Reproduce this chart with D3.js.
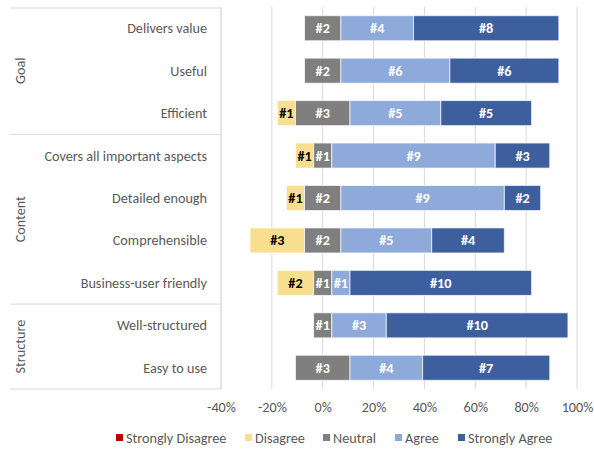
<!DOCTYPE html>
<html>
<head>
<meta charset="utf-8">
<script src="https://cdn.jsdelivr.net/npm/d3@7"></script>
<style>
  body { margin: 0; background: #fff; }
  svg text { font-family: Carlito, Lato, "Open Sans", sans-serif; }
</style>
</head>
<body>
<svg id="chart" width="594" height="449"></svg>
<script>
const items = ['Delivers value', 'Useful', 'Efficient', 'Covers all important aspects', 'Detailed enough',
  'Comprehensible', 'Business-user friendly', 'Well-structured', 'Easy to use']
const groups = [
  {name: 'Goal', first: 0, last: 2},
  {name: 'Content', first: 3, last: 6},
  {name: 'Structure', first: 7, last: 8}
]
const levels = ['Strongly Disagree', 'Disagree', 'Neutral', 'Agree', 'Strongly Agree']
const levelColors = ['#c00000', '#f8df8f', '#7f7f7f', '#8eaadb', '#3e5f9e']
const labelColors = ['#fff', '#000', '#fff', '#fff', '#fff']

// counts per level, same order as items
const stronglyDisagree = [0, 0, 0, 0, 0, 0, 0, 0, 0]
const disagree =         [0, 0, 1, 1, 1, 3, 2, 0, 0]
const neutral =          [2, 2, 3, 1, 2, 2, 1, 1, 3]
const agree =            [4, 6, 5, 9, 9, 5, 1, 3, 4]
const stronglyAgree =    [8, 6, 5, 3, 2, 4, 10, 10, 7]

const xTicks = [-0.4, -0.2, 0, 0.2, 0.4, 0.6, 0.8, 1.0]

const counts = items.map((d, i) => [stronglyDisagree[i], disagree[i], neutral[i], agree[i], stronglyAgree[i]])

// build segments, neutral split around zero
const segments = []
counts.forEach((c, i) => {
  const total = d3.sum(c)
  let pos = -(c[0] + c[1] + c[2] / 2) / total
  c.forEach((n, k) => {
    const w = n / total
    if (n > 0) segments.push({item: items[i], level: k, n: n, x0: pos, x1: pos + w})
    pos += w
  })
})

const svg = d3.select('#chart')
const plotTop = 7, plotBottom = 389, plotLeft = 221, plotRight = 577
const fs = 14.2

const x = d3.scaleLinear().domain([-0.4, 1.0]).range([plotLeft, plotRight])
const y = d3.scaleBand().domain(items).range([plotTop, plotBottom]).paddingInner(0.41).paddingOuter(0.205)

// grid
svg.append('g')
  .selectAll('line')
  .data(xTicks)
  .join('line')
  .attr('x1', d => x(d)).attr('x2', d => x(d))
  .attr('y1', plotTop).attr('y2', plotBottom)
  .attr('stroke', '#d9d9d9')
  .attr('stroke-width', 1)

// left category box
const gap = (y.step() - y.bandwidth()) / 2
const boxLines = [plotTop + 1, y(items[3]) - gap, y(items[7]) - gap, plotBottom]
svg.append('g')
  .selectAll('line')
  .data(boxLines)
  .join('line')
  .attr('x1', 10).attr('x2', plotLeft)
  .attr('y1', d => d).attr('y2', d => d)
  .attr('stroke', '#d9d9d9')
svg.append('line')
  .attr('x1', plotLeft).attr('x2', plotLeft)
  .attr('y1', plotTop + 1).attr('y2', plotBottom)
  .attr('stroke', '#d9d9d9')

// category labels
svg.append('g')
  .selectAll('text')
  .data(items)
  .join('text')
  .attr('x', 207)
  .attr('y', d => y(d) + y.bandwidth() / 2)
  .attr('dy', '0.35em')
  .attr('text-anchor', 'end')
  .attr('font-size', fs)
  .attr('fill', '#595959')
  .text(d => d)

// group labels
svg.append('g')
  .selectAll('text')
  .data(groups)
  .join('text')
  .attr('transform', d => {
    const cy = (y(items[d.first]) + y(items[d.last]) + y.bandwidth()) / 2
    return `translate(20,${cy}) rotate(-90)`
  })
  .attr('dy', '0.35em')
  .attr('text-anchor', 'middle')
  .attr('font-size', fs)
  .attr('fill', '#595959')
  .text(d => d.name)

// bars
const bars = svg.append('g')
bars.selectAll('rect')
  .data(segments)
  .join('rect')
  .attr('x', d => x(d.x0))
  .attr('width', d => x(d.x1) - x(d.x0))
  .attr('y', d => y(d.item))
  .attr('height', y.bandwidth())
  .attr('fill', d => levelColors[d.level])
  .attr('stroke', '#fff')
  .attr('stroke-opacity', 0.7)
  .attr('stroke-width', 1)

bars.selectAll('text')
  .data(segments)
  .join('text')
  .attr('x', d => (x(d.x0) + x(d.x1)) / 2)
  .attr('y', d => y(d.item) + y.bandwidth() / 2)
  .attr('dy', '0.35em')
  .attr('text-anchor', 'middle')
  .attr('font-size', fs)
  .attr('font-weight', d => d.level === 1 ? 'bold' : 600)
  .attr('fill', d => labelColors[d.level])
  .text(d => '#' + d.n)

// x axis, plain hyphen for negatives
const xAxis = svg.append('g')
  .attr('transform', `translate(0,${plotBottom})`)
  .call(d3.axisBottom(x).tickValues(xTicks)
    .tickFormat(d => Math.round(d * 100) + '%').tickSize(0).tickPadding(13))
xAxis.select('.domain').remove()
xAxis.selectAll('text')
  .attr('font-size', fs)
  .attr('fill', '#595959')
  .style('font-family', 'Carlito, Lato, "Open Sans", sans-serif')

// legend
const legendX = [116, 245, 323, 395, 458]
const legend = svg.append('g')
  .selectAll('g')
  .data(levels)
  .join('g')
  .attr('transform', (d, i) => `translate(${legendX[i]},438)`)
legend.append('rect')
  .attr('x', 0).attr('y', -4)
  .attr('width', 7).attr('height', 7)
  .attr('fill', (d, i) => levelColors[i])
legend.append('text')
  .attr('x', 10)
  .attr('y', 0)
  .attr('dy', '0.35em')
  .attr('font-size', fs)
  .attr('fill', '#595959')
  .text(d => d)
</script>
</body>
</html>
